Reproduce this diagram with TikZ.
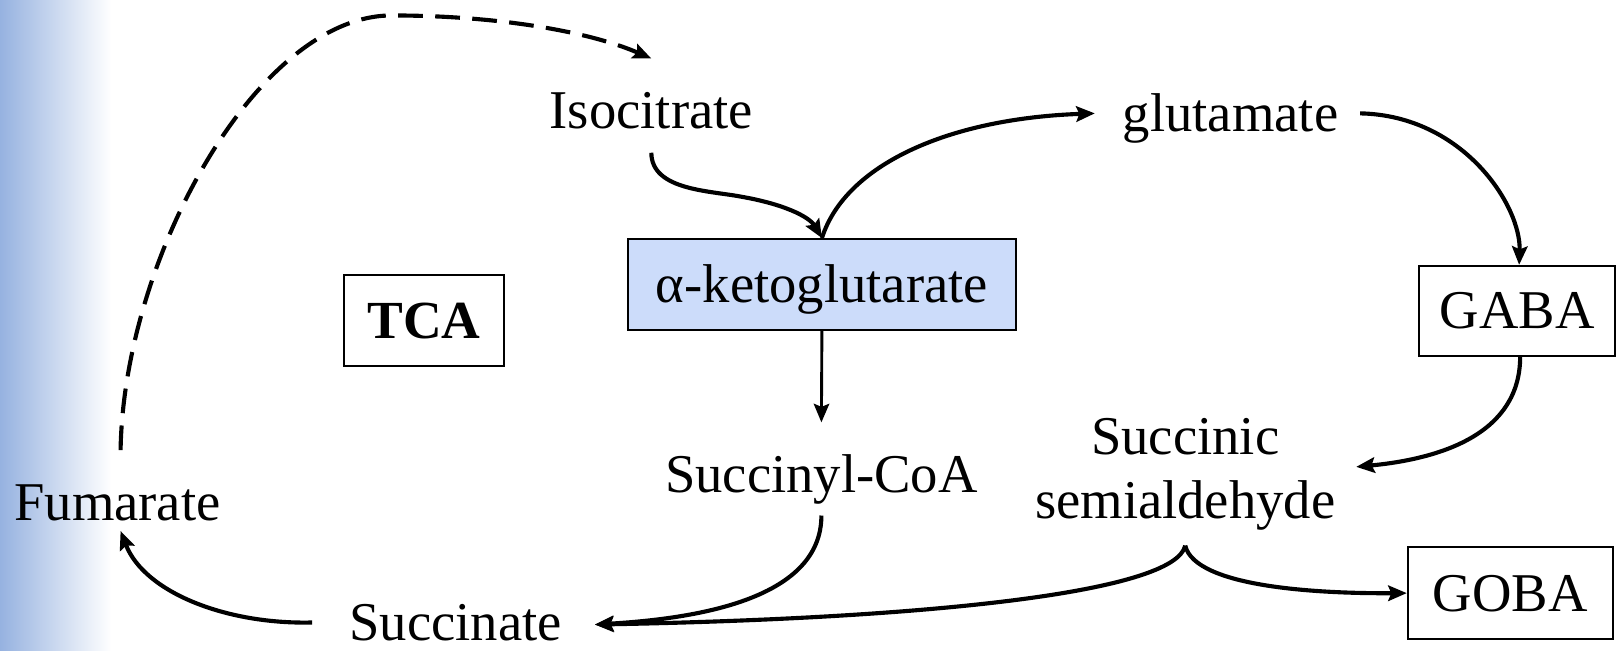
\documentclass[tikz,border=0pt]{standalone}
\usepackage{fontspec}
\setmainfont{Liberation Serif}
\usetikzlibrary{arrows.meta}
\definecolor{akfill}{RGB}{204,220,250}
\definecolor{bgblue}{RGB}{150,178,224}
\begin{document}
\begin{tikzpicture}[x=1pt,y=-1pt,
  lbl/.style={font=\fontsize{53}{62}\selectfont, inner sep=0pt, text height=36pt, text depth=12pt, anchor=base},
  boxed/.style={draw, line width=2pt, inner sep=0pt, font=\fontsize{53}{62}\selectfont, text height=35pt, text depth=0pt},
  arr/.style={line width=4pt, -{Stealth[length=18pt,width=15pt,inset=3pt]}},
  dasharr/.style={arr, dash pattern=on 24pt off 12pt}
]
\useasboundingbox (0,0) rectangle (1568,631);
\shade[left color=bgblue, right color=white] (0,0) rectangle (108,631);

\node[lbl] (iso) at (632,125) {Isocitrate};
\node[lbl] (glu) at (1194,128) {glutamate};
\node[boxed, fill=akfill, minimum width=377pt, minimum height=88pt] (ak) at (797.5,276) {α-ketoglutarate};
\node[boxed, minimum width=155pt, minimum height=88pt, font=\fontsize{52}{60}\selectfont\bfseries] (tca) at (411.5,311) {TCA};
\node[boxed, minimum width=190pt, minimum height=87pt] (gaba) at (1472,301.5) {GABA};
\node[lbl] (scoa) at (797,478) {Succinyl-CoA};
\node[font=\fontsize{53}{62}\selectfont, align=center, inner sep=0pt] (ssa) at (1150,460) {Succinic\\semialdehyde};
\node[boxed, minimum width=199pt, minimum height=89pt] (goba) at (1465.5,575.5) {GOBA};
\node[lbl, text depth=0pt] (succ) at (442,621) {Succinate};
\node[lbl] (fum) at (114,505) {Fumarate};

\draw[dasharr] ([xshift=3pt,yshift=32pt]fum.north) .. controls (120,250) and (250,15) .. (380,15) .. controls (480,15) and (570,30) .. ([yshift=32pt]iso.north);
\draw[arr] ([yshift=-11pt]iso.south) .. controls (632,185) and (690,185) .. (720,191) .. controls (760,198) and (785,210) .. (ak.north);
\draw[arr] (ak.north) .. controls (820,160) and (920,115) .. ([xshift=-27pt,yshift=6pt]glu.west);
\draw[arr] ([xshift=21pt,yshift=6pt]glu.east) .. controls (1420,112) and (1476,200) .. ([xshift=2pt]gaba.north);
\draw[arr] ([xshift=3pt]gaba.south) .. controls (1475,420) and (1400,445) .. ([xshift=20pt,yshift=7pt]ssa.east);
\draw[arr, line width=2.8pt] (ak.south) -- ([yshift=32pt]scoa.north);
\draw[arr] ([yshift=-10pt]scoa.south) .. controls (797,580) and (680,600) .. ([xshift=32pt,yshift=-3pt]succ.east);
\draw[arr] ([yshift=-15pt]ssa.south) .. controls (1140,575) and (900,600) .. ([xshift=32pt,yshift=-3pt]succ.east);
\draw[arr] ([yshift=-15pt]ssa.south) .. controls (1160,570) and (1280,576) .. (goba.west);
\draw[arr] ([xshift=-36pt,yshift=-1pt]succ.west) .. controls (220,606) and (140,575) .. ([xshift=3pt,yshift=2pt]fum.south);
\end{tikzpicture}
\end{document}
